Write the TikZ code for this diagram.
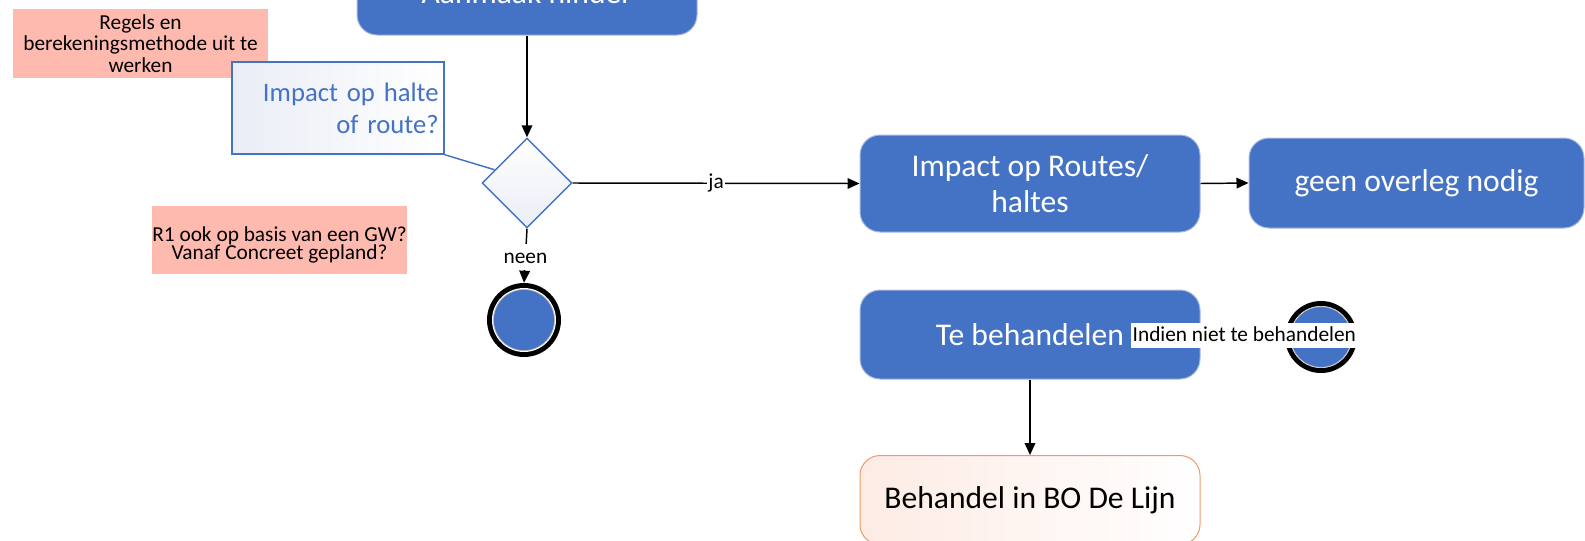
\documentclass[tikz,border=0pt]{standalone}
\usepackage{fontspec}
\setmainfont{Carlito}
\usetikzlibrary{shapes.geometric,arrows.meta,calc}
\definecolor{nblue}{HTML}{4472C4}
\definecolor{nborder}{HTML}{A9BBDF}
\definecolor{notefill}{HTML}{FFBAB0}
\definecolor{lav}{HTML}{EAEDF6}
\definecolor{orng}{HTML}{EE9A66}
\definecolor{peach}{HTML}{FDEBE4}
\begin{document}
\begin{tikzpicture}[x=0.75pt,y=-0.75pt,
  bluebox/.style={rectangle, rounded corners=15pt, fill=nblue, draw=nborder, line width=0.75pt,
    text=white, align=center, font=\fontsize{23.7}{27}\selectfont, inner sep=0pt},
  notebox/.style={rectangle, fill=notefill, align=center, inner sep=0pt,
    minimum width=191.25pt, font=\fontsize{16}{16}\selectfont},
  conn/.style={line width=1.1pt, -{Triangle[length=9pt,width=8pt]}},
  lbl/.style={fill=white, inner xsep=1pt, inner ysep=2pt, text height=12pt, text depth=3.5pt,
    font=\fontsize{16}{19}\selectfont, text=black}
]
\useasboundingbox (0,0) rectangle (1585,540);
\clip (0,0) rectangle (1585,540);

% notes
\node[notebox, minimum height=51.75pt, font=\fontsize{16}{16.1}\selectfont] (note1) at (140.5,43.5)
  {Regels en\\berekeningsmethode uit te\\werken};
\node[notebox, minimum height=51pt] (note2) at (279.5,240) {};
\node[align=center, inner sep=0pt, font=\fontsize{16}{13.8}\selectfont] (note2txt) at (279.5,245)
  {R1 ook op basis van een GW?\\Vanaf Concreet gepland?};

% main nodes
\node[bluebox, minimum width=255pt, minimum height=63.75pt] (start) at (527,-7.5) {Aanmaak hinder};
\node[diamond, aspect=1, minimum width=67.5pt, minimum height=67.5pt, inner sep=0pt,
  draw=nblue, line width=1.1pt, top color=white, bottom color=lav] (dia) at (527,183) {};
\node[bluebox, minimum width=255pt, minimum height=72.75pt] (imp) at (1030,183.5) {Impact op Routes/\\haltes};
\node[bluebox, minimum width=251.25pt, minimum height=67.5pt] (geen) at (1416.5,183) {geen overleg nodig};
\node[bluebox, minimum width=255pt, minimum height=66.75pt] (tb) at (1030,334.5) {Te behandelen};
\node[rectangle, rounded corners=15pt, minimum width=255pt, minimum height=66.75pt, draw=orng, line width=0.75pt,
  left color=peach, right color=white,
  font=\fontsize{23.7}{27}\selectfont, text=black] (beh) at (1030,500) {Behandel in BO De Lijn};

% callout
\node[rectangle, draw=nblue, line width=1.1pt, minimum width=159pt, minimum height=69pt,
  left color=lav, right color=white,
  text=nblue, align=right, text width=151pt, inner xsep=4pt,
  font=\fontsize{20}{24}\selectfont] (call) at (338,108) {Impact op halte\\of route?};
\draw[nblue, line width=1.1pt] (call.south east) -- ($(dia.west)!0.29!(dia.north)$);

% end points
\node[circle, fill=black, minimum size=55.5pt, inner sep=0pt] (endA) at (524,320) {};
\fill[white] (endA.center) circle (32);
\filldraw[fill=nblue, draw=gray!55, line width=0.5pt] (endA.center) circle (30.5);

\node[circle, fill=black, minimum size=54pt, inner sep=0pt] (endB) at (1321,337) {};
\fill[white] (endB.center) circle (31);
\filldraw[fill=nblue, draw=gray!55, line width=0.5pt] (endB.center) circle (30.3);

% connectors
\draw[conn] (start.south) -- (dia.north);
\draw[conn] (dia.east) -- node[lbl, midway] {ja} (imp.west);
\draw[conn] (dia.south) -- node[lbl, pos=0.53] {neen} (endA.north);
\draw[conn] (imp.east) -- (geen.west);
\draw[conn] (tb.east) -- node[lbl, pos=0.52, inner ysep=1.5pt] {Indien niet te behandelen} (endB.west);
\draw[conn] (tb.south) -- (beh.north);
\end{tikzpicture}
\end{document}
